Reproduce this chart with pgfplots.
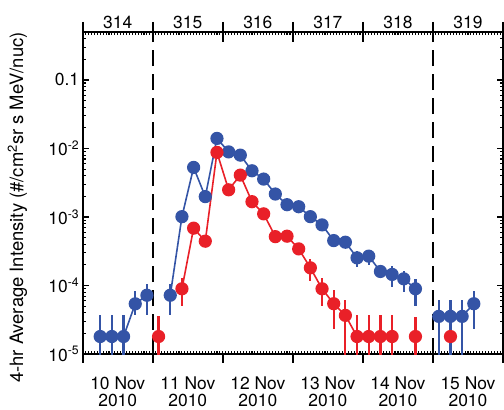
\documentclass[border=0pt]{standalone}
\usepackage{fontspec}
\setmainfont{TeX Gyre Heros}
\usepackage{pgfplots}
\usepackage{pgfplotstable}
\pgfplotsset{compat=1.18}

\definecolor{cblue}{RGB}{52,84,166}
\definecolor{cred}{RGB}{233,32,40}

% x = day of year (4-hr bin centres), y = intensity, lo/hi = error bar ends
\pgfplotstableread{
x        y        lo       hi
314.25   1.8e-5   5e-6     3.66e-5
314.4167 1.8e-5   5e-6     3.66e-5
314.5833 1.8e-5   5e-6     3.66e-5
314.75   5.4e-5   3.66e-5  8.4e-5
314.9167 7.2e-5   3.66e-5  1.06e-4
315.25   7.2e-5   3.66e-5  1.06e-4
315.4167 1.01e-3  1.01e-3  1.01e-3
315.5833 5.28e-3  5.28e-3  5.28e-3
315.75   1.98e-3  1.98e-3  1.98e-3
315.9167 1.40e-2  1.40e-2  1.40e-2
316.0833 8.9e-3   8.9e-3   8.9e-3
316.25   7.98e-3  7.98e-3  7.98e-3
316.4167 4.72e-3  4.72e-3  4.72e-3
316.5833 3.57e-3  3.57e-3  3.57e-3
316.75   2.16e-3  2.16e-3  2.16e-3
316.9167 1.51e-3  1.51e-3  1.51e-3
317.0833 1.41e-3  1.41e-3  1.41e-3
317.25   1.01e-3  1.01e-3  1.01e-3
317.4167 7.66e-4  7.66e-4  7.66e-4
317.5833 4.52e-4  4.52e-4  4.52e-4
317.75   4.28e-4  4.28e-4  4.28e-4
317.9167 2.53e-4  1.85e-4  3.17e-4
318.0833 2.68e-4  2.0e-4   3.3e-4
318.25   1.60e-4  1.32e-4  1.95e-4
318.4167 1.45e-4  9.5e-5   1.91e-4
318.5833 1.25e-4  8.0e-5   1.60e-4
318.75   8.95e-5  5.1e-5   1.25e-4
319.0833 3.54e-5  5e-6     6.05e-5
319.25   3.54e-5  5e-6     6.05e-5
319.4167 3.54e-5  5e-6     6.05e-5
319.5833 5.42e-5  2.34e-5  8.2e-5
}\blue

\pgfplotstableread{
x        y        lo       hi
315.0833 1.8e-5   5e-6     3.54e-5
315.4167 8.95e-5  5.1e-5   1.29e-4
315.5833 6.86e-4  6.86e-4  6.86e-4
315.75   4.43e-4  4.43e-4  4.43e-4
315.9167 8.75e-3  8.75e-3  8.75e-3
316.0833 2.49e-3  2.49e-3  2.49e-3
316.25   4.08e-3  4.08e-3  4.08e-3
316.4167 1.67e-3  1.67e-3  1.67e-3
316.5833 1.11e-3  1.11e-3  1.11e-3
316.75   5.16e-4  5.16e-4  5.16e-4
316.9167 5.24e-4  5.24e-4  5.24e-4
317.0833 3.42e-4  2.75e-4  4.04e-4
317.25   1.81e-4  1.18e-4  2.45e-4
317.4167 8.95e-5  5.1e-5   1.28e-4
317.5833 5.42e-5  2.34e-5  8.45e-5
317.75   3.66e-5  5e-6     6.05e-5
317.9167 1.8e-5   5e-6     3.66e-5
318.0833 1.8e-5   5e-6     3.66e-5
318.25   1.8e-5   5e-6     3.66e-5
318.4167 1.8e-5   5e-6     3.66e-5
318.75   1.8e-5   5e-6     3.5e-5
319.25   1.8e-5   1.8e-5   1.8e-5
}\red

\pgfplotsset{
  myseries/.style={#1, line width=1.6bp, mark=*, mark size=5.8bp,
    error bars/y dir=both, error bars/y explicit,
    error bars/error bar style={line width=2.2bp, #1},
    error bars/error mark=none},
}

\begin{document}
\begin{tikzpicture}
\begin{axis}[
  at={(0,0)}, anchor=south west, scale only axis,
  width=420.3bp, height=322bp,
  xmin=314, xmax=320, ymode=log, ymin=1e-5, ymax=0.5,
  axis x line*=bottom, axis y line*=box,
  tick align=inside, minor tick length=3.5bp, major tick length=6.5bp,
  every tick/.append style={black},
  minor tick style={line width=1.1bp},
  major tick style={line width=1.8bp},
  axis line style={line width=1.8bp},
  tick label style={font=\fontsize{17.5}{17}\selectfont},
  label style={font=\fontsize{18.5}{22}\selectfont},
  xtick={314.5,315.5,...,319.5},
  minor xtick={314,314.0416667,...,320.01},
  xticklabels={{10 Nov\\2010},{11 Nov\\2010},{12 Nov\\2010},{13 Nov\\2010},{14 Nov\\2010},{15 Nov\\2010}},
  xticklabel style={align=center, yshift=-19bp},
  major x tick style={draw=none},
  extra x ticks={314,315,...,320},
  extra x tick labels={},
  extra x tick style={tick align=outside, major tick length=9bp, major x tick style={draw=black}},
  ytick={1e-5,1e-4,1e-3,1e-2,1e-1},
  yticklabels={10\textsuperscript{-5},10\textsuperscript{-4},10\textsuperscript{-3},10\textsuperscript{-2},0.1},
  minor ytick={2e-5,3e-5,4e-5,5e-5,6e-5,7e-5,8e-5,9e-5,
               2e-4,3e-4,4e-4,5e-4,6e-4,7e-4,8e-4,9e-4,
               2e-3,3e-3,4e-3,5e-3,6e-3,7e-3,8e-3,9e-3,
               2e-2,3e-2,4e-2,5e-2,6e-2,7e-2,8e-2,9e-2,
               2e-1,3e-1,4e-1},
  ylabel={4-hr Average Intensity (\#/cm\textsuperscript{2}sr s MeV/nuc)},
  ylabel style={at={(axis description cs:-0.155,0.455)}, anchor=center},
]
% boundaries of the period
\addplot[black, line width=2.2bp, dash pattern=on 16bp off 8bp, forget plot]
  coordinates {(315,1e-5) (315,0.5)};
\addplot[black, line width=2.2bp, dash pattern=on 16bp off 8bp, forget plot]
  coordinates {(319,1e-5) (319,0.5)};

% blue series, three runs of consecutive bins
\addplot[myseries=cblue, restrict x to domain=314:315]
  table[x=x, y=y, y error plus expr=\thisrow{hi}-\thisrow{y}, y error minus expr=\thisrow{y}-\thisrow{lo}] {\blue};
\addplot[myseries=cblue, restrict x to domain=315:319]
  table[x=x, y=y, y error plus expr=\thisrow{hi}-\thisrow{y}, y error minus expr=\thisrow{y}-\thisrow{lo}] {\blue};
\addplot[myseries=cblue, restrict x to domain=319:320]
  table[x=x, y=y, y error plus expr=\thisrow{hi}-\thisrow{y}, y error minus expr=\thisrow{y}-\thisrow{lo}] {\blue};

% red series
\addplot[myseries=cred, restrict x to domain=315:315.2]
  table[x=x, y=y, y error plus expr=\thisrow{hi}-\thisrow{y}, y error minus expr=\thisrow{y}-\thisrow{lo}] {\red};
\addplot[myseries=cred, restrict x to domain=315.3:318.5]
  table[x=x, y=y, y error plus expr=\thisrow{hi}-\thisrow{y}, y error minus expr=\thisrow{y}-\thisrow{lo}] {\red};
\addplot[myseries=cred, restrict x to domain=318.6:319]
  table[x=x, y=y, y error plus expr=\thisrow{hi}-\thisrow{y}, y error minus expr=\thisrow{y}-\thisrow{lo}] {\red};
\addplot[myseries=cred, restrict x to domain=319:320]
  table[x=x, y=y, y error plus expr=\thisrow{hi}-\thisrow{y}, y error minus expr=\thisrow{y}-\thisrow{lo}] {\red};
\end{axis}

% top axis: day of year
\begin{axis}[
  at={(0,0)}, anchor=south west, scale only axis,
  width=420.3bp, height=322bp,
  xmin=314, xmax=320, ymin=0, ymax=1,
  axis x line*=top, hide y axis,
  tick align=inside, minor tick length=3.5bp, major tick length=6.5bp,
  every tick/.append style={black},
  minor tick style={line width=1.1bp},
  major tick style={line width=1.8bp},
  axis line style={line width=1.8bp},
  tick label style={font=\fontsize{17.5}{17}\selectfont},
  xtick={314.5,315.5,...,319.5},
  minor xtick={314,314.0416667,...,320.01},
  xticklabels={314,315,316,317,318,319},
  major x tick style={draw=none},
  extra x ticks={314,315,...,320},
  extra x tick labels={},
  extra x tick style={tick align=center, major tick length=20bp, major x tick style={draw=black}},
]
\addplot[draw=none, forget plot] coordinates {(314,0.5) (320,0.5)};
\end{axis}

\pgfresetboundingbox
\path[use as bounding box] (-82.7bp,-56bp) rectangle (421.3bp,354bp);
\end{tikzpicture}
\end{document}
